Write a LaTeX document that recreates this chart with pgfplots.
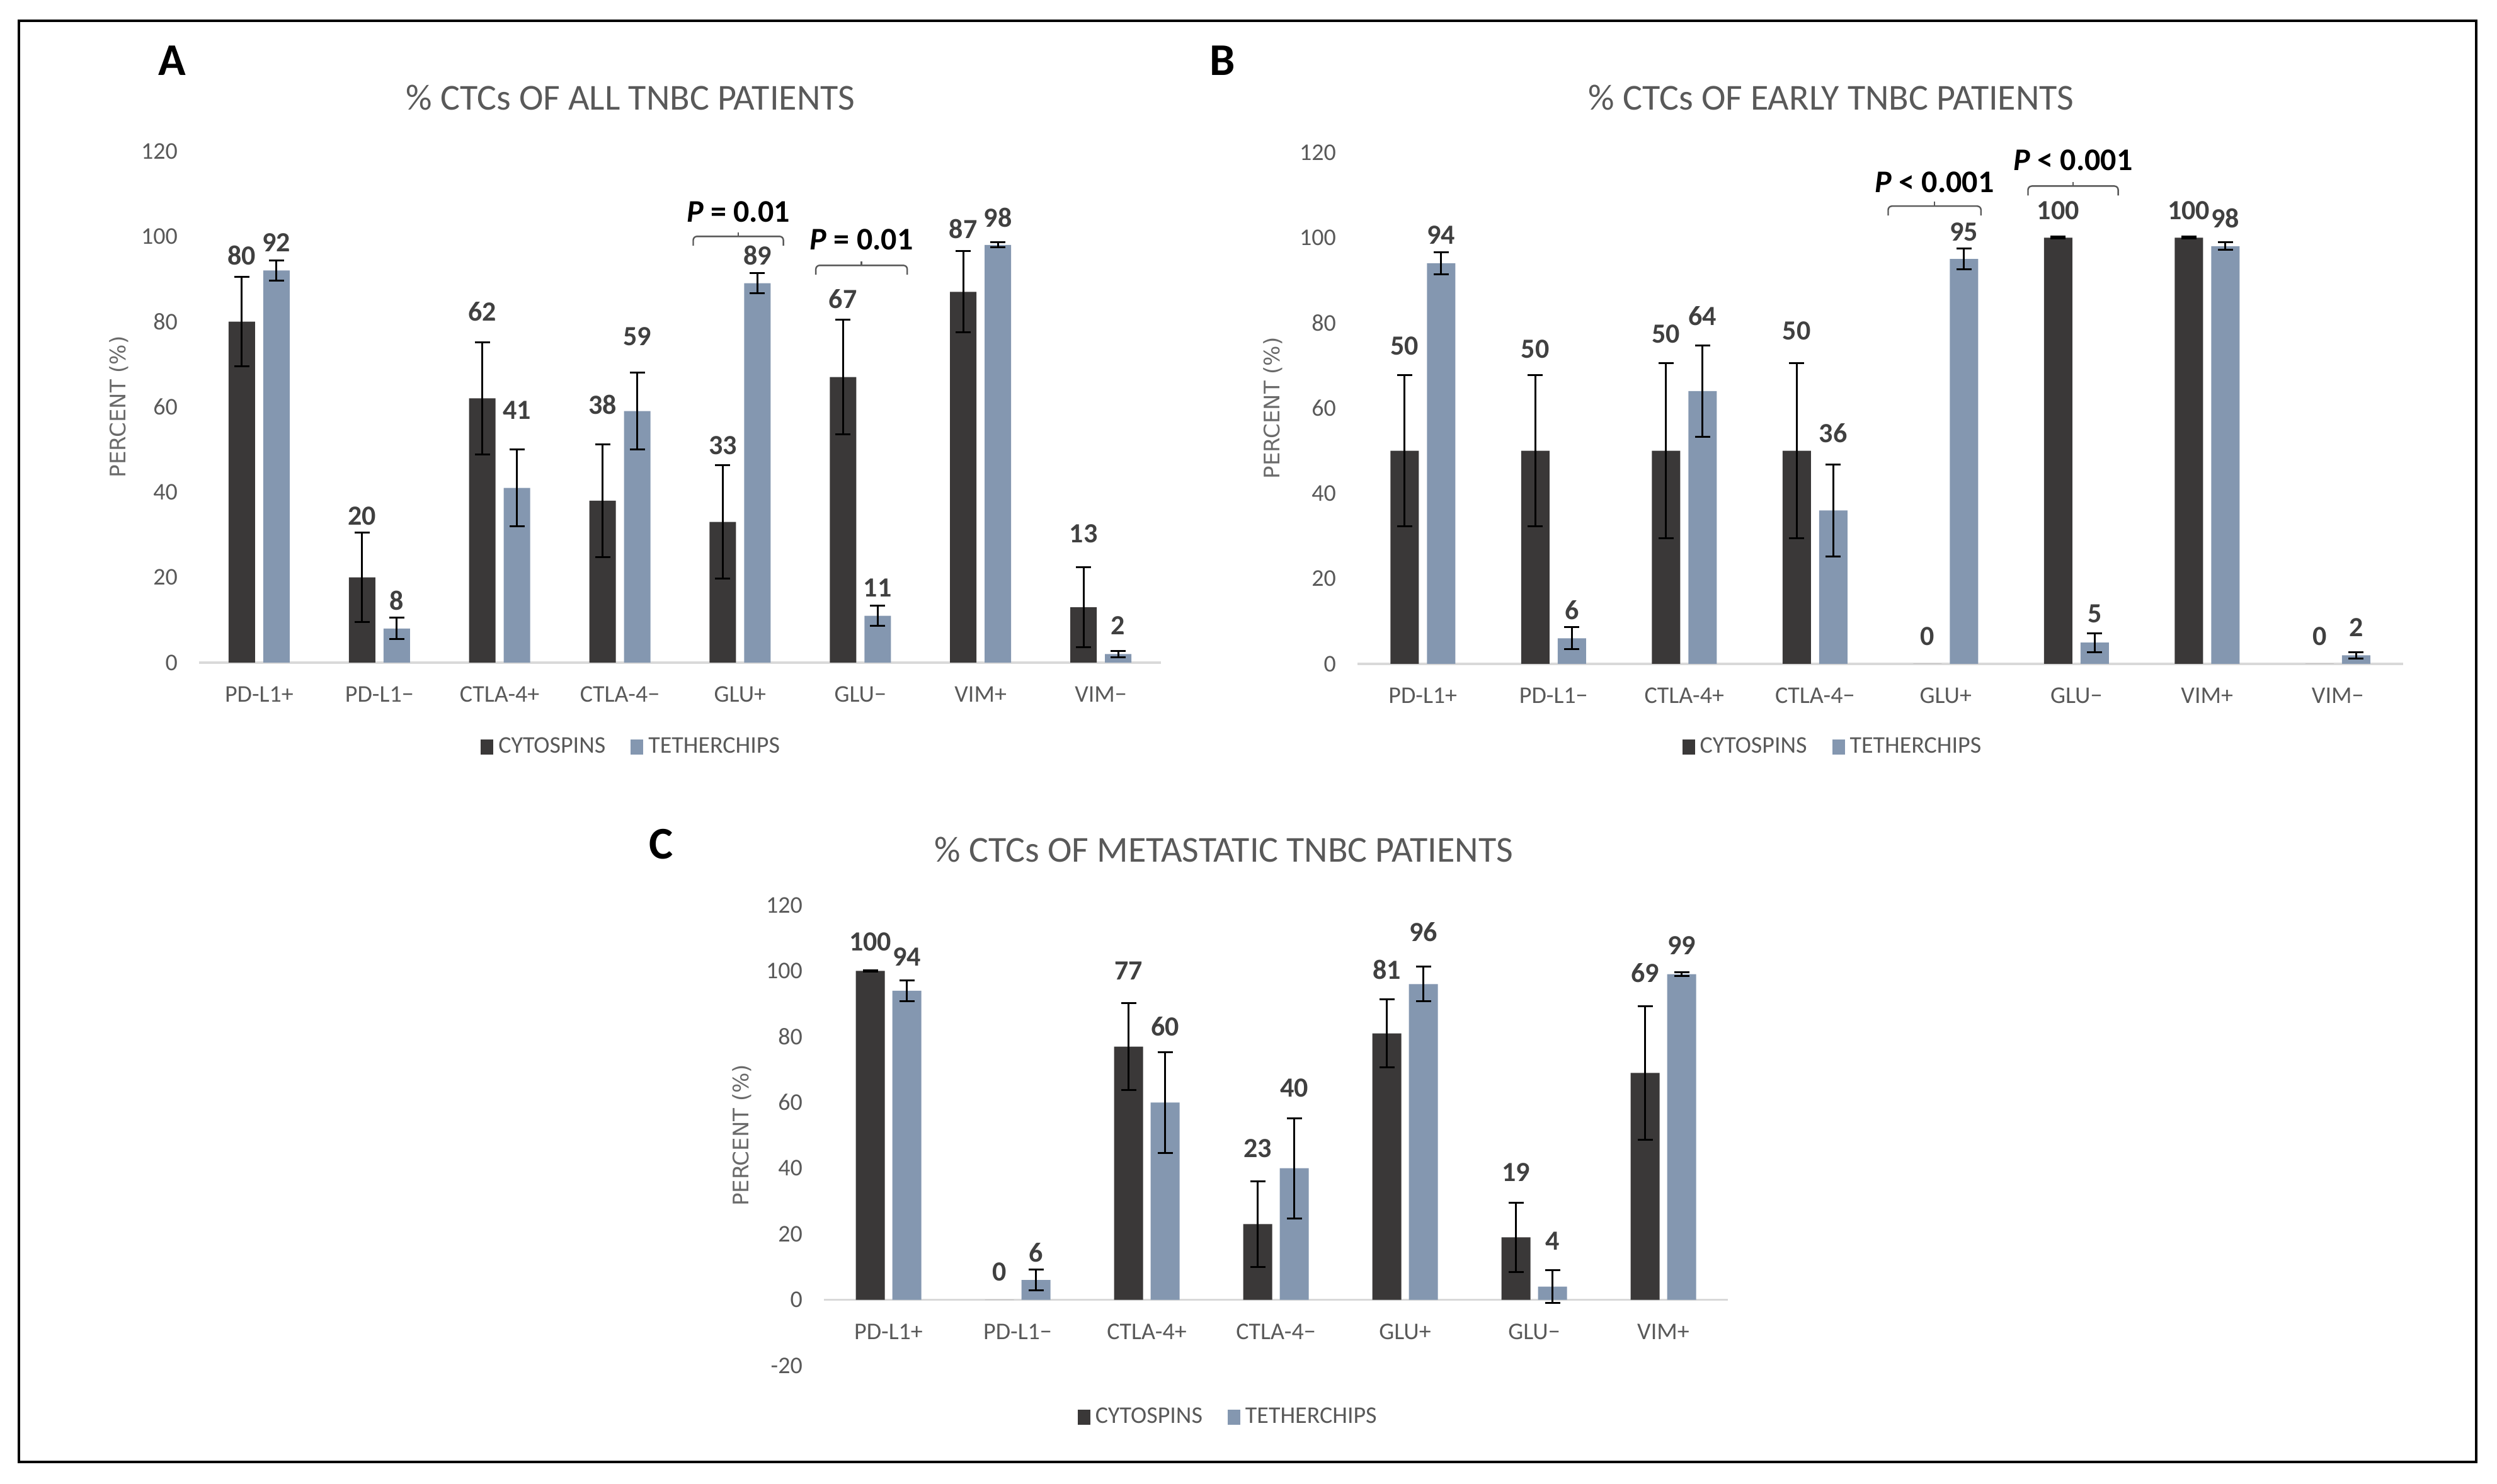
\documentclass[border=0pt]{standalone}
\usepackage{pgfplots}
\pgfplotsset{compat=1.18}
\usepackage{pgfplotstable}
\usepackage{fontspec}
\setmainfont{Carlito}
\newfontfamily\labfont{DejaVu Sans}

\definecolor{cyto}{HTML}{3A3838}
\definecolor{tether}{HTML}{8497B0}
\definecolor{txt}{HTML}{595959}
\definecolor{vals}{HTML}{404040}
\definecolor{axln}{HTML}{D9D9D9}

% x, cytospins value/error/label height, tetherchips value/error/label height
\pgfplotstableread{
x c  ce   cl    t  te  tl
0 80 10.5 95.5  92 2.4 98.5
1 20 10.5 34.4  8  2.5 14.6
2 62 13.2 82.4  41 9.0 59.3
3 38 13.2 60.5  59 9.0 76.5
4 33 13.3 51.0  89 2.4 95.5
5 67 13.4 85.3  11 2.4 17.6
6 87 9.5  101.8 98 0.6 104.4
7 13 9.4  30.2  2  0.7 8.7
}\allpts
\pgfplotstableread{
x c   ce   cl    t  te   tl
0 50  17.7 74.6  94 2.6  100.7
1 50  17.7 73.9  6  2.6  12.6
2 50  20.5 77.4  64 10.7 81.6
3 50  20.5 78.1  36 10.8 54.1
4 0   0    6.5   95 2.4  101.4
5 100 0.2  106.4 5  2.2  11.8
6 100 0.2  106.4 98 0.9  104.6
7 0   0    6.5   2  0.8  8.5
}\earlypts
\pgfplotstableread{
x c   ce   cl    t  te   tl
0 100 0.2  108.8 94 3.2  104.2
1 0   0    8.4   6  3.2  14.3
2 77  13.3 100.1 60 15.3 83.1
3 23  13.0 46.0  40 15.2 64.4
4 81  10.4 100.4 96 5.3  111.9
5 19  10.5 38.8  4  5.0  17.9
6 69  20.3 99.3  99 0.6  107.8
}\metapts

\pgfplotsset{
  tnbc/.style={
    scale only axis,
    anchor=south west,
    clip=false,
    ybar,
    bar width=10.5pt,
    xmin=-0.5,
    ymax=120, ytick distance=20,
    xtick={0,...,7},
    xticklabels={PD-L1+,PD-L1−,CTLA-4+,CTLA-4−,GLU+,GLU−,VIM+,VIM−},
    axis y line*=left, y axis line style={draw=none},
    x axis line style={draw=axln, line width=0.8pt},
    major tick length=0pt,
    tick label style={font=\fontsize{9.5}{11}\selectfont, text=txt},
    /pgf/number format/assume math mode=true,
    yticklabel style={xshift=-5pt},
    xticklabel style={yshift=-6pt},
    ylabel={PERCENT (\%)},
    ylabel style={font=\labfont\fontsize{8.5}{10}\selectfont, text=txt!90, anchor=center},
    legend style={draw=none, fill=none, legend columns=2, anchor=center,
      font=\fontsize{9.5}{11}\selectfont, text=txt,
      /tikz/every even column/.append style={column sep=8pt}},
    legend image code/.code={\fill[##1] (0pt,-3pt) rectangle (5pt,3pt);},
    nodes near coords,
    every node near coord/.append style={font=\fontsize{11}{13}\selectfont\bfseries, text=vals, anchor=center},
    error bars/error bar style={black, line width=0.75pt},
    error bars/error mark options={rotate=90, mark size=3pt, line width=0.75pt, black},
  },
}

\newcommand{\pbr}[5]{% left x, right x, bracket y, text y, text
  \draw[txt, line width=0.6pt, rounded corners=1.5pt]
    (axis cs:#1,#3-2.2) -- (axis cs:#1,#3) -- (axis cs:#2,#3) -- (axis cs:#2,#3-2.2);
  \draw[txt, line width=0.6pt] (axis cs:{(#1+#2)/2},#3) -- (axis cs:{(#1+#2)/2},#3+1);
  \node[font=\fontsize{12.5}{14}\selectfont\bfseries, text=black] at (axis cs:{(#1+#2)/2},#4) {#5};
}

\begin{document}
\begin{tikzpicture}
\useasboundingbox (0,0) rectangle (991pt,589pt);
\draw[line width=1pt] (7.5pt,8.75pt) rectangle (982.75pt,580.75pt);

\node[font=\fontsize{18}{20}\selectfont\bfseries] at (68.25pt,565pt) {A};
\node[font=\fontsize{18}{20}\selectfont\bfseries] at (485.25pt,565pt) {B};
\node[font=\fontsize{18}{20}\selectfont\bfseries] at (262.5pt,254pt) {C};
\node[font=\fontsize{14.5}{16}\selectfont, text=txt] at (250.25pt,550.25pt) {\% CTCs OF ALL TNBC PATIENTS};
\node[font=\fontsize{14.5}{16}\selectfont, text=txt] at (726.75pt,550.25pt) {\% CTCs OF EARLY TNBC PATIENTS};
\node[font=\fontsize{14.5}{16}\selectfont, text=txt] at (485.75pt,251.75pt) {\% CTCs OF METASTATIC TNBC PATIENTS};

% A: all patients (1.6917pt per percent)
\begin{axis}[tnbc, at={(79pt,326pt)}, width=381.75pt, height=203pt,
  xmax=7.5, ymin=0, axis x line*=bottom,
  ylabel style={at={(axis description cs:-0.083,0.5)}},
  legend style={at={(axis description cs:0.451,-0.165)}}]
\addplot[fill=cyto, draw=none, bar shift=-6.875pt,
  visualization depends on={\thisrow{cl}-\thisrow{c}\as\dl},
  every node near coord/.append style={yshift=\dl*1.6917pt},
  error bars/.cd, y dir=both, y explicit]
  table[x=x, y=c, y error=ce]{\allpts};
\addlegendentry{CYTOSPINS}
\addplot[fill=tether, draw=none, bar shift=6.875pt,
  visualization depends on={\thisrow{tl}-\thisrow{t}\as\dl},
  every node near coord/.append style={yshift=\dl*1.6917pt},
  error bars/.cd, y dir=both, y explicit]
  table[x=x, y=t, y error=te]{\allpts};
\addlegendentry{TETHERCHIPS}
\pbr{3.61}{4.36}{100}{105.7}{\textit{P} = 0.01}
\pbr{4.63}{5.39}{93.2}{99.2}{\textit{P} = 0.01}
\end{axis}

% B: early patients
\begin{axis}[tnbc, at={(538.75pt,325.5pt)}, width=415pt, height=203pt,
  xmax=7.5, ymin=0, axis x line*=bottom, bar width=11.25pt,
  ylabel style={at={(axis description cs:-0.081,0.5)}},
  legend style={at={(axis description cs:0.456,-0.163)}}]
\addplot[fill=cyto, draw=none, bar shift=-7.25pt,
  skip coords between index={4}{5}, skip coords between index={7}{8},
  visualization depends on={\thisrow{cl}-\thisrow{c}\as\dl},
  every node near coord/.append style={yshift=\dl*1.6917pt},
  error bars/.cd, y dir=both, y explicit]
  table[x=x, y=c, y error=ce]{\earlypts};
\addlegendentry{CYTOSPINS}
\addplot[fill=tether, draw=none, bar shift=7.25pt,
  visualization depends on={\thisrow{tl}-\thisrow{t}\as\dl},
  every node near coord/.append style={yshift=\dl*1.6917pt},
  error bars/.cd, y dir=both, y explicit]
  table[x=x, y=t, y error=te]{\earlypts};
\addlegendentry{TETHERCHIPS}
% zero-valued cytospins bars: label only
\addplot[fill=cyto, draw=none, bar shift=-7.25pt, forget plot,
  every node near coord/.append style={yshift=6.5*1.6917pt}]
  coordinates {(4,0) (7,0)};
\pbr{3.56}{4.27}{107.4}{113}{\textit{P} < 0.001}
\pbr{4.63}{5.32}{112.1}{118.2}{\textit{P} < 0.001}
\end{axis}

% C: metastatic patients (1.3054pt per percent)
\begin{axis}[tnbc, at={(327pt,47pt)}, width=358.75pt, height=182.75pt,
  xmax=6.5, ymin=-20, axis x line*=middle, bar width=11.5pt,
  hide obscured y ticks=false,
  xtick={0,...,6},
  xticklabels={PD-L1+,PD-L1−,CTLA-4+,CTLA-4−,GLU+,GLU−,VIM+},
  ylabel style={at={(axis description cs:-0.091,0.5)}},
  legend style={at={(axis description cs:0.449,-0.112)}}]
\addplot[fill=cyto, draw=none, bar shift=-7.25pt,
  skip coords between index={1}{2},
  visualization depends on={\thisrow{cl}-\thisrow{c}\as\dl},
  every node near coord/.append style={yshift=\dl*1.3054pt},
  error bars/.cd, y dir=both, y explicit]
  table[x=x, y=c, y error=ce]{\metapts};
\addlegendentry{CYTOSPINS}
\addplot[fill=tether, draw=none, bar shift=7.25pt,
  visualization depends on={\thisrow{tl}-\thisrow{t}\as\dl},
  every node near coord/.append style={yshift=\dl*1.3054pt},
  error bars/.cd, y dir=both, y explicit]
  table[x=x, y=t, y error=te]{\metapts};
\addlegendentry{TETHERCHIPS}
\addplot[fill=cyto, draw=none, bar shift=-7.25pt, forget plot,
  every node near coord/.append style={yshift=8.4*1.3054pt}]
  coordinates {(1,0)};
\end{axis}
\end{tikzpicture}
\end{document}
